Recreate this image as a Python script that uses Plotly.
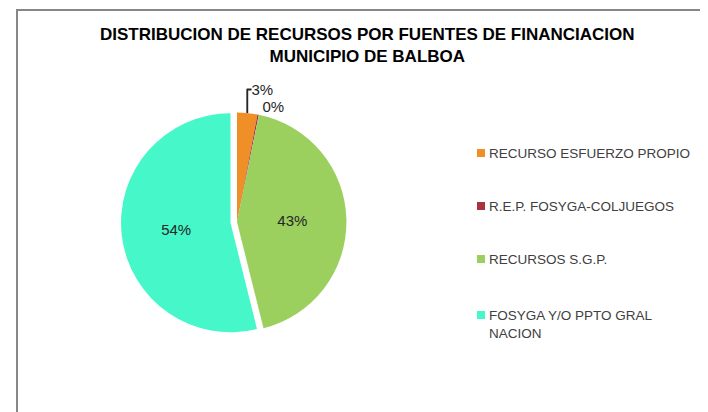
import plotly.graph_objects as go

categories = ["RECURSO ESFUERZO PROPIO", "R.E.P. FOSYGA-COLJUEGOS",
              "RECURSOS S.G.P.", "FOSYGA Y/O PPTO GRAL<br>NACION"]
values = [3.0, 0.2, 43.0, 54.0]
colors = ["#F08E28", "#A8323E", "#9BD05E", "#45F7C9"]

W, H = 708, 412
OX, OY = 8, 8  # default page body margin
FONT = "Liberation Sans, Arial, sans-serif"


def px(x):
    return (x - OX) / W


def py(y):
    return (H - (y - OY)) / H


cx, cy, r = 237, 222, 116
fig = go.Figure(go.Pie(
    labels=categories, values=values, sort=False, direction="clockwise",
    rotation=0, marker=dict(colors=colors, line=dict(width=0)),
    pull=[0, 0, 0, 0.06], texttemplate="%{percent:.0%}",
    textposition=["outside", "outside", "inside", "inside"],
    insidetextorientation="horizontal",
    textfont=dict(family=FONT, size=15, color="#262626"),
    domain=dict(x=[px(cx - r), px(cx + r)], y=[py(cy + r), py(cy - r)]),
    showlegend=False, hoverinfo="label+percent",
))

shapes = [dict(type="rect", xref="paper", yref="paper",
               x0=px(17), x1=px(740), y0=py(440), y1=py(10),
               line=dict(color="#878787", width=2), fillcolor="rgba(0,0,0,0)")]
annotations = [dict(text="<b>DISTRIBUCION DE RECURSOS POR FUENTES DE FINANCIACION<br>MUNICIPIO DE BALBOA</b>",
                    x=px(367), y=py(46), xref="paper", yref="paper",
                    showarrow=False, font=dict(family=FONT, size=17, color="#000000"),
                    align="center", xanchor="center", yanchor="middle")]

leg_y = [153, 206, 259, 315]
for name, col, yy in zip(categories, colors, leg_y):
    shapes.append(dict(type="rect", xref="paper", yref="paper",
                       x0=px(477), x1=px(485), y0=py(yy + 4), y1=py(yy - 4),
                       line=dict(width=0), fillcolor=col))
    annotations.append(dict(text=name, x=px(487), y=py(yy - 9), xref="paper", yref="paper",
                            showarrow=False, xanchor="left", yanchor="top", align="left",
                            font=dict(family=FONT, size=13.5, color="#404040")))

fig.update_layout(width=W, height=H, margin=dict(l=0, r=0, t=0, b=0),
                  paper_bgcolor="white", plot_bgcolor="white",
                  shapes=shapes, annotations=annotations)
fig.write_html("out.html", config={"displayModeBar": False})
